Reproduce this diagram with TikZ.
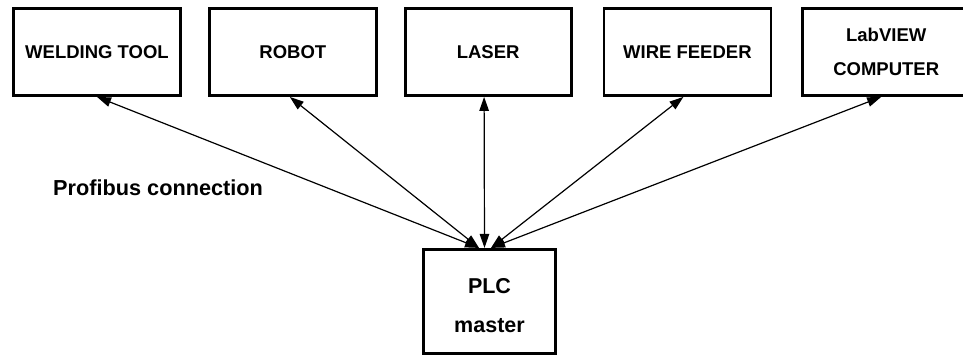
\documentclass[tikz,border=0pt]{standalone}
\usepackage{fontspec}
\setmainfont{Liberation Sans}
\usetikzlibrary{arrows.meta, positioning}
\tikzstyle{devBox} = [draw, rectangle, line width=2.8pt, minimum width=167pt,
   minimum height=87pt, inner sep=0pt, align=center,
   font=\fontsize{18.5}{34.5}\selectfont\bfseries]
\tikzstyle{plcBox} = [draw, rectangle, line width=2.8pt, minimum width=132pt,
   minimum height=104pt, inner sep=0pt]
\tikzstyle{busArrow} = [line width=1.2pt, {Triangle[length=14pt,width=9.5pt]}-{Triangle[length=14pt,width=9.5pt]}]

\begin{document}
\begin{tikzpicture}[x=1pt, y=-1pt]
  \useasboundingbox (0,0) rectangle (963,356);

  \node[devBox] (node_weld) at (97,52) {WELDING TOOL};
  \node[devBox, right=26pt of node_weld] (node_robot) {ROBOT};
  \node[devBox, right=26pt of node_robot, minimum width=166pt] (node_laser) {LASER};
  \node[devBox, right=30pt of node_laser] (node_feeder) {WIRE FEEDER};
  \node[devBox, right=29pt of node_feeder] (node_pc) {LabVIEW\\COMPUTER};

  \node[plcBox, below=151pt of node_laser, xshift=1.4pt] (node_PLC) {};
  \node[align=center, font=\fontsize{21.5}{39}\selectfont\bfseries]
     (plc_text) at ([yshift=-4.5pt]node_PLC.center) {PLC\\master}; % text sits a bit low

  \node[anchor=base west, inner sep=0pt, font=\fontsize{21.7}{26}\selectfont\bfseries]
     (bus_text) at (53,195) {Profibus connection};

  % profibus lines, PLC to every device
  \draw[busArrow] ([xshift=-10.5pt]node_PLC.north) -- (node_weld.south);
  \draw[busArrow] ([xshift=-10.5pt]node_PLC.north) -- ([xshift=-3pt]node_robot.south);
  \draw[busArrow] ([xshift=-5pt]node_PLC.north) -- ([xshift=-4pt]node_laser.south);
  \draw[busArrow] ([xshift=1.5pt]node_PLC.north) -- ([xshift=-4pt]node_feeder.south);
  \draw[busArrow] ([xshift=1.5pt]node_PLC.north) -- ([xshift=-5pt]node_pc.south);

\end{tikzpicture}
\end{document}
